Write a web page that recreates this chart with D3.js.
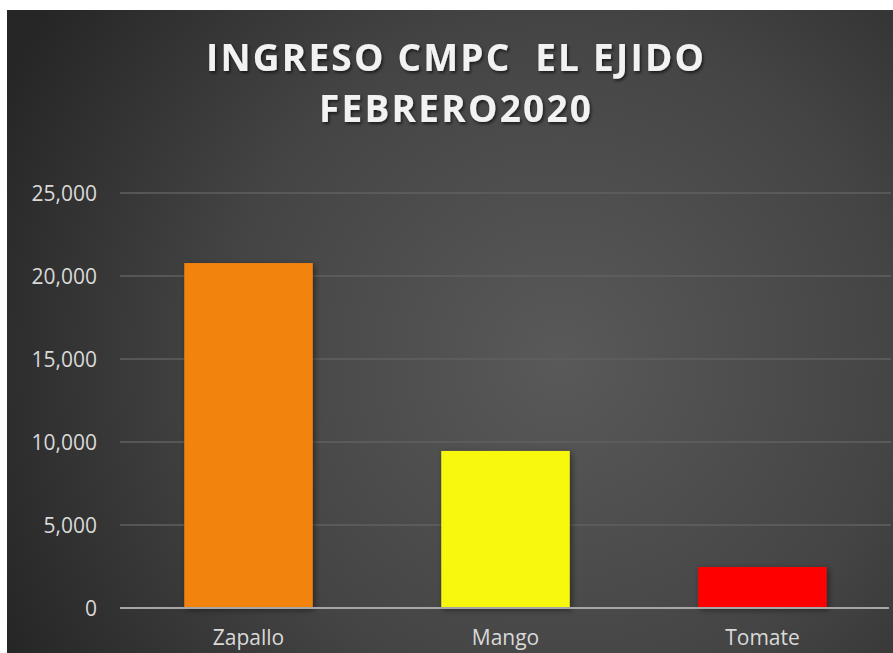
<!DOCTYPE html>
<html>
<head>
<meta charset="utf-8">
<script src="https://cdn.jsdelivr.net/npm/d3@7"></script>
<style>
  html, body { margin: 0; padding: 0; background: #fff; }
  svg { display: block; }
</style>
</head>
<body>
<svg class="chart"></svg>
<script>
var categories = ["Zapallo", "Mango", "Tomate"];
var values = [20780, 9460, 2470];
var colors = ["#f2840f", "#f7f80a", "#ff0000"];
var tickValues = [0, 5000, 10000, 15000, 20000, 25000];
var titleLines = ["INGRESO CMPC  EL EJIDO", "FEBRERO2020"];

(function show() {
    'use strict';

    var W = 893, H = 653;
    var margin = { top: 193, bottom: 45, right: 2, left: 120 },
        width = W - margin.left - margin.right,
        height = H - margin.top - margin.bottom;

    var svg = d3.select(".chart")
        .attr("width", W)
        .attr("height", H);

    var defs = svg.append("defs");

    var grad = defs.append("radialGradient")
        .attr("id", "bg")
        .attr("gradientUnits", "userSpaceOnUse")
        .attr("cx", 560).attr("cy", 360).attr("r", 620);
    grad.append("stop").attr("offset", "0").attr("stop-color", "#595959");
    grad.append("stop").attr("offset", "0.55").attr("stop-color", "#444444");
    grad.append("stop").attr("offset", "1").attr("stop-color", "#262626");

    var shadow = defs.append("filter").attr("id", "shadow")
        .attr("x", "-20%").attr("y", "-20%").attr("width", "140%").attr("height", "140%");
    shadow.append("feDropShadow")
        .attr("dx", 2).attr("dy", 2).attr("stdDeviation", 3)
        .attr("flood-color", "#000").attr("flood-opacity", 0.45);

    var tshadow = defs.append("filter").attr("id", "tshadow")
        .attr("x", "-10%").attr("y", "-30%").attr("width", "120%").attr("height", "160%");
    tshadow.append("feDropShadow")
        .attr("dx", 1.5).attr("dy", 2).attr("stdDeviation", 1.5)
        .attr("flood-color", "#000").attr("flood-opacity", 0.6);

    // background panel
    svg.append("rect")
        .attr("x", 7).attr("y", 10)
        .attr("width", W - 7).attr("height", H - 10)
        .attr("fill", "url(#bg)");

    // title
    var title = svg.append("g")
        .attr("font-family", "'Open Sans', sans-serif")
        .attr("font-weight", "bold")
        .attr("font-size", 37)
        .attr("fill", "#f2f2f2")
        .attr("text-anchor", "middle")
        .attr("filter", "url(#tshadow)");

    var lineWidths = [498, 272];
    title.selectAll("text").data(titleLines).enter().append("text")
        .attr("x", 455)
        .attr("y", function(d, i) { return 71 + i * 51; })
        .style("white-space", "pre")
        .attr("xml:space", "preserve")
        .text(function(d) { return d; })
        .each(function(d, i) {
            var len = this.getComputedTextLength();
            var n = d.length - 1;
            var ls = (lineWidths[i] - len) / n;
            d3.select(this).attr("letter-spacing", ls);
            // shift to keep centered with the trailing spacing
            d3.select(this).attr("x", 455 + ls / 2);
        });

    var chart = svg.append("g")
        .attr("transform", "translate(" + margin.left + "," + margin.top + ")");

    var y = d3.scaleLinear().domain([0, 25000]).range([height, 0]);
    var x = d3.scaleBand().domain(categories).range([0, width])
        .paddingInner(0.5).paddingOuter(0.25);

    // gridlines
    chart.selectAll("line.grid").data(tickValues.slice(1)).enter().append("line")
        .attr("class", "grid")
        .attr("x1", 0).attr("x2", width)
        .attr("y1", function(d) { return y(d); })
        .attr("y2", function(d) { return y(d); })
        .attr("stroke", "#606060")
        .attr("stroke-width", 1.3);

    // bars
    chart.selectAll("rect.bar").data(values).enter().append("rect")
        .attr("class", "bar")
        .attr("x", function(d, i) { return x(categories[i]); })
        .attr("y", function(d) { return y(d); })
        .attr("width", x.bandwidth())
        .attr("height", function(d) { return height - y(d); })
        .attr("fill", function(d, i) { return colors[i]; })
        .attr("filter", "url(#shadow)");

    // zero axis line
    chart.append("line")
        .attr("x1", 0).attr("x2", width - 2)
        .attr("y1", y(0)).attr("y2", y(0))
        .attr("stroke", "#a6a6a6")
        .attr("stroke-width", 2);

    // y axis labels
    var yAxis = d3.axisLeft(y).tickValues(tickValues)
        .tickFormat(d3.format(",")).tickSize(0).tickPadding(23);
    var ya = chart.append("g").call(yAxis);
    ya.select(".domain").remove();
    ya.selectAll("text")
        .attr("font-family", "'Open Sans', sans-serif")
        .attr("font-size", 21)
        .attr("fill", "#d9d9d9")
        .attr("dy", "0.36em");

    // x axis labels
    var xAxis = d3.axisBottom(x).tickSize(0).tickPadding(22);
    var xa = chart.append("g").attr("transform", "translate(0," + height + ")").call(xAxis);
    xa.select(".domain").remove();
    xa.selectAll("text")
        .attr("font-family", "'Open Sans', sans-serif")
        .attr("font-size", 21)
        .attr("fill", "#d9d9d9");
})();
</script>
</body>
</html>
